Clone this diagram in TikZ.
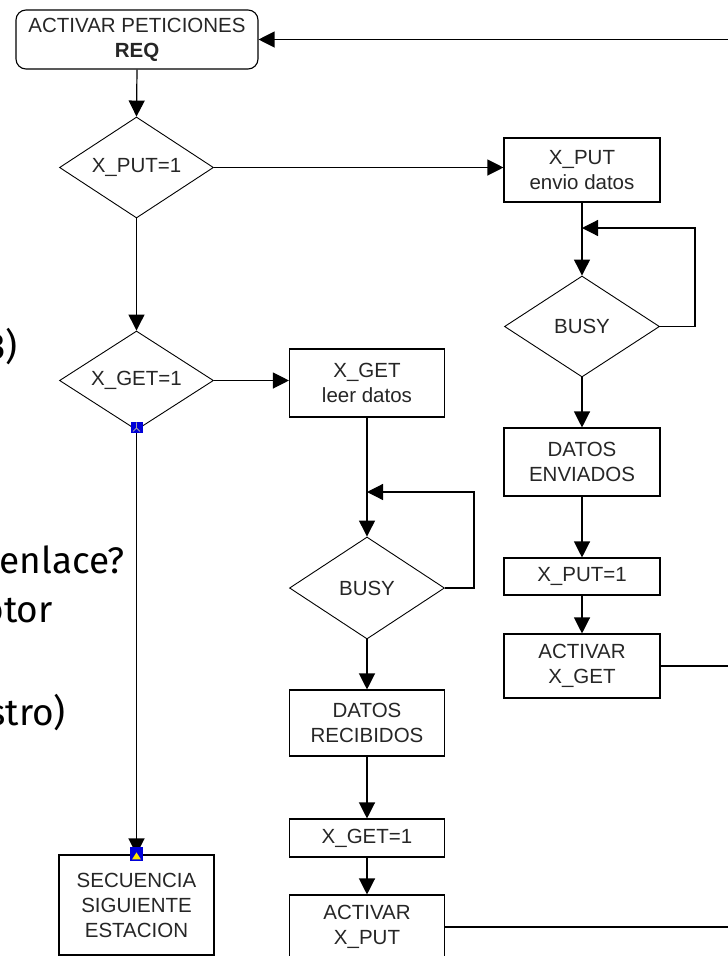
\documentclass[tikz,border=0pt]{standalone}
\usepackage{fontspec}
\setmainfont{Liberation Sans}
\newfontfamily\fira{Fira Sans}
\usetikzlibrary{shapes.geometric,arrows.meta}
\tikzset{
  box/.style={draw=black,line width=1.1pt,rectangle,minimum width=155pt,inner sep=0pt,align=center,text=black!85,font=\fontsize{20.5}{25}\selectfont},
  rbox/.style={box,rounded corners=10pt},
  dec/.style={draw=black,line width=0.9pt,diamond,aspect=1.5,inner sep=0pt,text=black!85,font=\fontsize{20.5}{25}\selectfont},
  arr/.style={line width=1.2pt,-{Triangle[length=16pt,width=16pt]}},
  ln/.style={line width=1.2pt},
  bg/.style={font=\fira\fontsize{37}{44}\selectfont,text=black,inner sep=0pt}
}
\begin{document}
\begin{tikzpicture}[x=1pt,y=-1pt]
\useasboundingbox (0,0) rectangle (728,956);
\clip (0,0) rectangle (728,956);
% background slide text fragments
\node[bg,anchor=base east] (t1) at (18,359) {3)};
\node[bg,anchor=base east] (t2) at (125,573) {enlace?};
\node[bg,anchor=base east] (t3) at (53,622) {otor};
\node[bg,anchor=base east] (t4) at (66,725) {stro)};
% left column
\node[rbox,minimum width=242pt,minimum height=59pt] (req) at (137,39.5) {ACTIVAR PETICIONES\\\textbf{REQ}};
\node[dec,minimum width=154pt,minimum height=101pt] (dput) at (136.5,167.5) {X\_PUT=1};
\node[dec,minimum width=154pt,minimum height=99pt] (dget) at (136.5,380.5) {X\_GET=1};
\node[box,minimum height=100pt] (sec) at (136.5,905) {SECUENCIA\\SIGUIENTE\\ESTACION};
% right column
\node[box,minimum width=156pt,minimum height=64pt] (xput) at (582,170) {X\_PUT\\envio datos};
\node[dec,minimum width=155pt,minimum height=101pt] (busy1) at (582,326.5) {BUSY};
\node[box,minimum width=156pt,minimum height=68pt] (denv) at (582,462) {DATOS\\ENVIADOS};
\node[box,minimum width=156pt,minimum height=37pt] (xput1) at (582,576.5) {X\_PUT=1};
\node[box,minimum width=156pt,minimum height=64pt] (actget) at (582,666) {ACTIVAR\\X\_GET};
% middle column
\node[box,minimum height=68pt] (xget) at (367,383) {X\_GET\\leer datos};
\node[dec,minimum width=155pt,minimum height=102pt] (busy2) at (367,588) {BUSY};
\node[box,minimum height=66pt] (drec) at (367,723) {DATOS\\RECIBIDOS};
\node[box,minimum height=38pt] (xget1) at (367,838) {X\_GET=1};
\node[box,minimum height=64pt] (actput) at (367,927) {ACTIVAR\\X\_PUT};
% free ends
\coordinate (e0) at (728,39.5);
\coordinate (e1) at (728,666);
\coordinate (e2) at (728,927);
\coordinate (r1) at (695,228);
\coordinate (l1) at (582,228);
\coordinate (r2) at (474,492);
\coordinate (l2) at (367,492);
% connectors
\draw[arr] (e0) -- (req.east);
\draw[arr] (req.south) -- (dput.north);
\draw[arr] (dput.east) -- (dput.east -| xput.west);
\draw[arr] (dput.south) -- (dget.north);
\draw[arr] (dget.east) -- (dget.east -| xget.west);
\draw[arr] (dget.south) -- (sec.north);
\draw[arr] (xput.south) -- (busy1.north);
\draw[arr] (busy1.east) -| (r1) -- (l1);
\draw[arr] (busy1.south) -- (denv.north);
\draw[arr] (denv.south) -- (xput1.north);
\draw[arr] (xput1.south) -- (actget.north);
\draw[ln] (actget.east) -- (e1);
\draw[arr] (xget.south) -- (busy2.north);
\draw[arr] (busy2.east) -| (r2) -- (l2);
\draw[arr] (busy2.south) -- (drec.north);
\draw[arr] (drec.south) -- (xget1.north);
\draw[arr] (xget1.south) -- (actput.north);
\draw[ln] (actput.east) -- (e2);
% selection markers
\fill[blue!85!black] ([xshift=-6pt,yshift=-3pt]dget.south) rectangle ([xshift=6pt,yshift=8pt]dget.south);
\draw[black!35,line width=0.8pt] ([xshift=-3.5pt,yshift=-1pt]dget.south) -- ([yshift=2.5pt]dget.south) -- ([xshift=3.5pt,yshift=-1pt]dget.south) ([yshift=2.5pt]dget.south) -- ([yshift=8pt]dget.south);
\fill[blue!85!black] ([xshift=-6.5pt,yshift=-7pt]sec.north) rectangle ([xshift=6.5pt,yshift=7pt]sec.north);
\fill[yellow!90!orange] ([xshift=-4.5pt,yshift=-5pt]sec.north) -- ([xshift=4.5pt,yshift=-5pt]sec.north) -- ([yshift=2pt]sec.north) -- cycle;
\end{tikzpicture}
\end{document}
